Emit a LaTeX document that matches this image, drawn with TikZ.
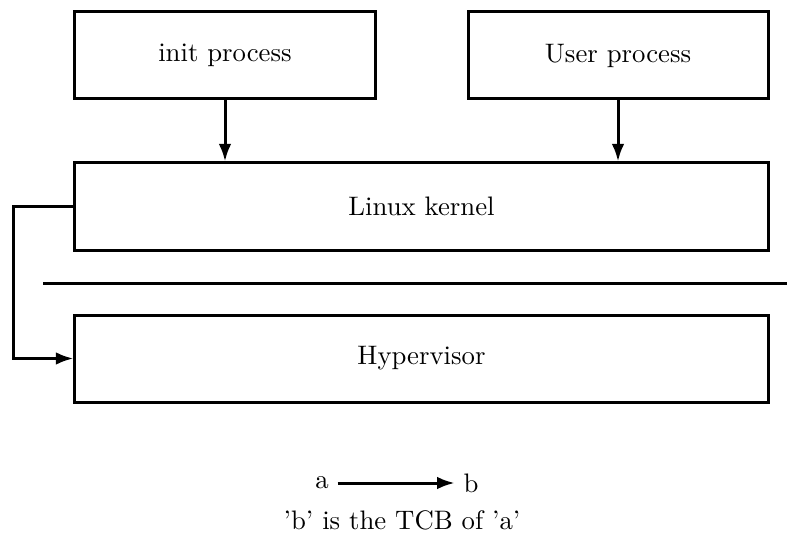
\documentclass[tikz,border=0pt]{standalone}
\usetikzlibrary{arrows.meta}
\begin{document}
\begin{tikzpicture}[x=0.4pt,y=-0.4pt,
  every node/.style={font=\fontsize{10.7}{13}\selectfont},
  box/.style={draw,line width=1.2pt,rectangle,minimum height=34.8pt,inner sep=0pt},
  conn/.style={line width=1.2pt,-{Latex[length=7pt,width=5pt]}},
  plain/.style={line width=1.2pt}]
\useasboundingbox (0,0) rectangle (787,539);
\node[box,minimum width=120pt] (init) at (225,55.5) {init process};
\node[box,minimum width=120pt] (user) at (618,55.5) {User process};
\node[box,minimum width=277.2pt] (kernel) at (421.5,206.5) {Linux kernel};
\node[box,minimum width=277.2pt] (hyper) at (421.5,358.5) {Hypervisor};
\coordinate (l1) at (43,283);
\coordinate (l2) at (787,283);
\draw[plain] (l1) -- (l2);
\draw[conn] (init.south) -- (init.south |- kernel.north);
\draw[conn] (user.south) -- (user.south |- kernel.north);
\coordinate (bend) at (13,206.5);
\draw[conn] (kernel.west) -- (bend) |- (hyper.west);
\node (a) at (322,483) {a};
\node (b) at (471,483) {b};
\draw[conn] (a) -- (b);
\node (cap) at (402,520) {'b' is the TCB of 'a'};
\end{tikzpicture}
\end{document}
